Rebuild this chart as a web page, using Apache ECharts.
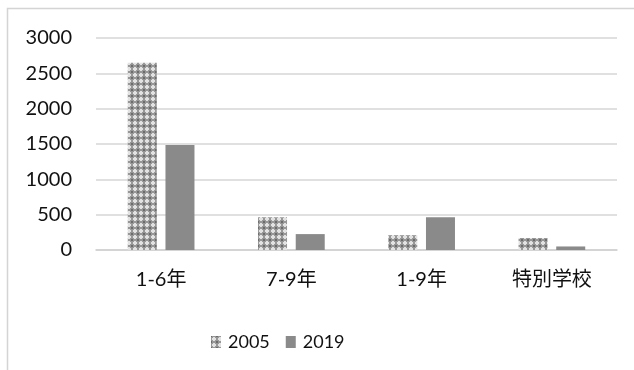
<!DOCTYPE html>
<html>
<head>
<meta charset="utf-8">
<style>
  html, body { margin: 0; padding: 0; background: #fff; }
  #chart { width: 634px; height: 370px; }
</style>
<script src="https://cdn.jsdelivr.net/npm/echarts@6/dist/echarts.min.js"></script>
</head>
<body>
<div id="chart"></div>
<script>
// School counts by school type, 2005 vs 2019
const categories = ['1-6年', '7-9年', '1-9年', '特別学校'];
const seriesNames = ['2005', '2019'];
const values2005 = [2650, 465, 210, 170];
const values2019 = [1485, 225, 465, 50];
const yTicks = [0, 500, 1000, 1500, 2000, 2500, 3000];

// Checkered tile for the 2005 bars
function makePattern() {
  const c = document.createElement('canvas');
  c.width = 6; c.height = 6;
  const g = c.getContext('2d');
  g.fillStyle = '#979797';
  g.fillRect(0, 0, 6, 6);
  g.fillStyle = '#e2e2e2';
  // light diamond spots
  g.fillRect(2, 1, 2, 1);
  g.fillRect(1, 2, 4, 2);
  g.fillRect(2, 4, 2, 1);
  g.fillStyle = '#6c6c6c';
  g.fillRect(0, 0, 1, 1);
  g.fillRect(5, 0, 1, 1);
  g.fillRect(0, 5, 1, 1);
  g.fillRect(5, 5, 1, 1);
  return c;
}
const pattern = { image: makePattern(), repeat: 'repeat' };

const font = "Lato, 'Noto Sans CJK JP', sans-serif";
const textColor = '#111';
const chart = echarts.init(document.getElementById('chart'), null, { renderer: 'canvas' });

chart.setOption({
  animation: false,
  backgroundColor: '#ffffff',
  textStyle: { fontFamily: font },
  graphic: [{
    type: 'rect',
    silent: true,
    shape: { x: 7.5, y: 8.5, width: 800, height: 500 },
    style: { fill: 'none', stroke: '#d4d4d4', lineWidth: 1.5 }
  }],
  grid: { left: 96, right: 17, top: 38, bottom: 120, containLabel: false },
  legend: {
    left: 206,
    top: 328,
    itemWidth: 10,
    itemHeight: 12,
    itemGap: 16,
    icon: 'rect',
    textStyle: { fontSize: 18, color: textColor, fontFamily: font, padding: [0, 0, 0, 2] },
    data: seriesNames
  },
  xAxis: {
    type: 'category',
    data: categories,
    axisTick: { show: false },
    axisLine: { lineStyle: { color: '#d0d0d0', width: 1.5 } },
    axisLabel: { fontSize: 20, color: textColor, margin: 20, fontFamily: font }
  },
  yAxis: {
    type: 'value',
    min: 0,
    max: 3000,
    interval: 500,
    axisLine: { show: false },
    axisTick: { show: false },
    splitLine: { lineStyle: { color: '#d6d6d6', width: 1.5 } },
    axisLabel: {
      fontSize: 20, color: textColor, margin: 24, fontFamily: font,
      formatter: v => (yTicks.indexOf(v) >= 0 ? String(v) : '')
    }
  },
  series: [
    {
      name: seriesNames[0],
      type: 'bar',
      data: values2005,
      barWidth: 29,
      barGap: '30%',
      itemStyle: { color: pattern }
    },
    {
      name: seriesNames[1],
      type: 'bar',
      data: values2019,
      barWidth: 29,
      barGap: '30%',
      itemStyle: { color: '#8a8a8a' }
    }
  ]
});
</script>
</body>
</html>
